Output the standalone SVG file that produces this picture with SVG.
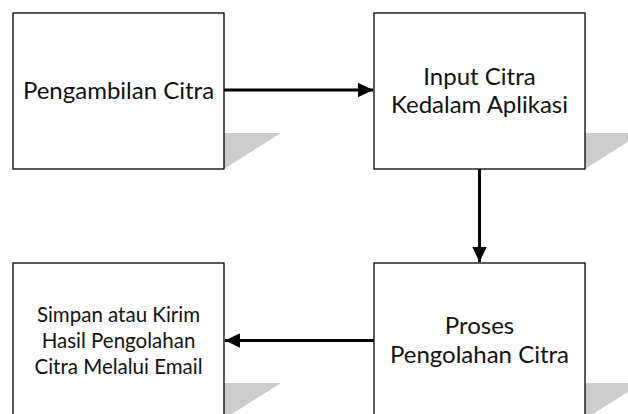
<svg xmlns="http://www.w3.org/2000/svg" width="628" height="414" viewBox="0 0 628 414">
<style>
.box{fill:#fff;stroke:#000;stroke-width:1.3}
.sh{fill:#cccccc}
.t{font-family:Lato,"Liberation Sans",sans-serif;fill:#111;text-anchor:middle}
.big{font-size:24px}
.small{font-size:20.5px}
.c{stroke:#000;stroke-width:3;fill:none}
</style>
<defs>
<marker id="ah" markerWidth="6" markerHeight="6" refX="5" refY="3" orient="auto" markerUnits="strokeWidth">
<path d="M0,0.6 L5,3 L0,5.4 Z" fill="#000"/>
</marker>
</defs>
<rect width="628" height="414" fill="#fff"/>
<g id="node1">
<polygon class="sh" points="224,133 281,133 224,169"/>
<rect class="box" x="13" y="13" width="211" height="156"/>
<text class="t big" x="118.5" y="99">Pengambilan Citra</text>
</g>
<g id="node2">
<polygon class="sh" points="585,133 642,133 585,169"/>
<rect class="box" x="374" y="13" width="211" height="156"/>
<text class="t big" x="479.5" y="84.5">Input Citra</text>
<text class="t big" x="479.5" y="112.5">Kedalam Aplikasi</text>
</g>
<g id="node3">
<polygon class="sh" points="224,383 281,383 224,419"/>
<rect class="box" x="13" y="263" width="211" height="156"/>
<text class="t small" x="118.5" y="322">Simpan atau Kirim</text>
<text class="t small" x="118.5" y="348">Hasil Pengolahan</text>
<text class="t small" x="118.5" y="374">Citra Melalui Email</text>
</g>
<g id="node4">
<polygon class="sh" points="585,383 642,383 585,419"/>
<rect class="box" x="374" y="263" width="211" height="156"/>
<text class="t big" x="479.5" y="334">Proses</text>
<text class="t big" x="479.5" y="362.5">Pengolahan Citra</text>
</g>
<g id="connectors">
<line class="c" x1="224" y1="90" x2="373" y2="90" marker-end="url(#ah)"/>
<line class="c" x1="479.5" y1="169" x2="479.5" y2="262" marker-end="url(#ah)"/>
<line class="c" x1="374" y1="340.5" x2="225" y2="340.5" marker-end="url(#ah)"/>
</g>
</svg>
